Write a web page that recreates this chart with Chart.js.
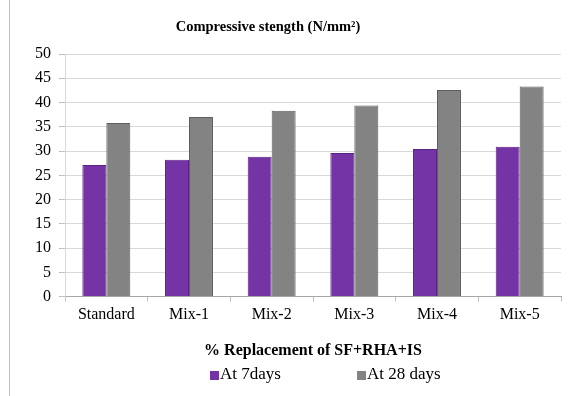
<!DOCTYPE html>
<html>
<head>
<meta charset="utf-8">
<script src="https://cdn.jsdelivr.net/npm/chart.js@4"></script>
<style>
  html, body { margin: 0; padding: 0; background: #fff; }
  #wrap { width: 576px; height: 396px; position: relative; }
</style>
</head>
<body>
<div id="wrap"><canvas id="strengthChart" width="576" height="396"></canvas></div>
<script>
const mixes = ['Standard', 'Mix-1', 'Mix-2', 'Mix-3', 'Mix-4', 'Mix-5'];
const at7days = [27.1, 28.2, 28.8, 29.6, 30.4, 30.9];
const at28days = [35.8, 37.0, 38.3, 39.4, 42.6, 43.3];
const seriesNames = ['At 7days', 'At 28 days'];
const chartTitle = 'Compressive stength (N/mm\u00B2)';
const xTitle = '% Replacement of SF+RHA+IS';

const serif = "'Liberation Serif', 'Times New Roman', serif";

// title, left page rule and legend are drawn by hand so they sit where the original had them
const decorPlugin = {
    id: 'decor',
    beforeDraw(chart) {
        const ctx = chart.ctx;
        ctx.save();
        ctx.strokeStyle = '#c0c0c0';
        ctx.lineWidth = 1;
        ctx.beginPath();
        ctx.moveTo(9.5, 0);
        ctx.lineTo(9.5, chart.height);
        ctx.stroke();
        ctx.restore();
    },
    afterDraw(chart) {
        const ctx = chart.ctx;
        ctx.save();
        ctx.fillStyle = '#000';
        ctx.font = 'bold 14.5px ' + serif;
        ctx.textAlign = 'center';
        ctx.textBaseline = 'middle';
        ctx.fillText(chartTitle, 268, 27);

        ctx.font = '17px ' + serif;
        ctx.textAlign = 'left';
        let x = 210;
        chart.data.datasets.forEach((ds, i) => {
            ctx.fillStyle = ds.backgroundColor;
            ctx.fillRect(x, 371, 9, 9);
            ctx.fillStyle = '#000';
            ctx.fillText(ds.label, x + 10, 375);
            x += 147;
        });
        ctx.restore();
    }
};

const ctx = document.getElementById('strengthChart').getContext('2d');
window.chart = new Chart(ctx, {
    type: 'bar',
    data: {
        labels: mixes,
        datasets: [{
            label: seriesNames[0],
            data: at7days,
            backgroundColor: '#7434a6',
            borderColor: '#5a2282',
            borderWidth: 1,
            categoryPercentage: 0.58,
            barPercentage: 1.0
        }, {
            label: seriesNames[1],
            data: at28days,
            backgroundColor: '#838383',
            borderColor: '#5e5e5e',
            borderWidth: 1,
            categoryPercentage: 0.58,
            barPercentage: 1.0
        }]
    },
    options: {
        responsive: false,
        animation: false,
        layout: { padding: { left: 27, right: 15, top: 54, bottom: 36 } },
        scales: {
            x: {
                grid: {
                    drawOnChartArea: false,
                    drawTicks: true,
                    tickLength: 5,
                    color: '#bfbfbf'
                },
                border: { color: '#a6a6a6' },
                ticks: {
                    color: '#000',
                    font: { family: serif, size: 16 },
                    padding: 4
                },
                title: {
                    display: true,
                    text: xTitle,
                    color: '#000',
                    font: { family: serif, size: 16, weight: 'bold' },
                    padding: { top: 12, bottom: 0 }
                }
            },
            y: {
                min: 0,
                max: 50,
                ticks: {
                    stepSize: 5,
                    color: '#000',
                    font: { family: serif, size: 16 },
                    padding: 8
                },
                grid: {
                    color: '#d9d9d9',
                    tickLength: 6,
                    tickColor: '#bfbfbf'
                },
                border: { color: '#d9d9d9' }
            }
        },
        plugins: {
            legend: { display: false },
            title: { display: false },
            tooltip: { enabled: false }
        }
    },
    plugins: [decorPlugin]
});
</script>
</body>
</html>
